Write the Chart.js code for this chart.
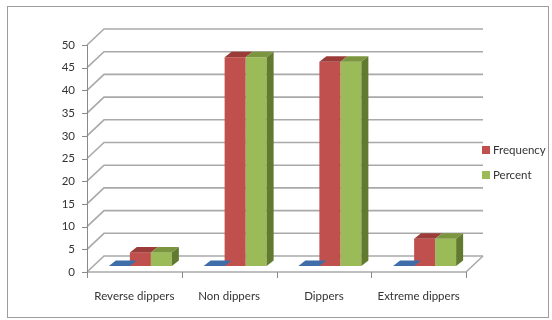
<!DOCTYPE html>
<html>
<head>
<meta charset="utf-8">
<script src="https://cdn.jsdelivr.net/npm/chart.js@4/dist/chart.umd.min.js"></script>
<style>
  html,body{margin:0;padding:0;background:#fff;}
  #wrap{position:relative;width:552px;height:320px;}
</style>
</head>
<body>
<div id="wrap"><canvas id="c" width="552" height="320"></canvas></div>
<script>
const categories = ['Reverse dippers', 'Non dippers', 'Dippers', 'Extreme dippers'];
const baseSeries = [0, 0, 0, 0];
const frequency = [3, 46, 45, 6];
const percent = [3, 46, 45, 6];
const legendLabels = ['Frequency', 'Percent'];
const yMin = 0, yMax = 50, yStep = 5;

const FONT = 'Lato, "Liberation Sans", sans-serif';
const TEXT = '#333333';
const faces = [
  { front: '#4F81BD', top: '#3F6DAA', side: '#2F5588' },
  { front: '#C0504D', top: '#9B3C39', side: '#8C3331' },
  { front: '#9BBB59', top: '#7B963E', side: '#617A2F' }
];
const DX = 17, DY = 16;      // wall depth
const BX = 6, BY = 6;        // bar row offset (mid depth)
const SX = 7, SY = 5.5;      // bar depth

const threeD = {
  id: 'threeD',
  beforeDraw(chart) {
    const ctx = chart.ctx;
    ctx.save();
    ctx.fillStyle = '#fff';
    ctx.fillRect(0, 0, chart.width, chart.height);
    ctx.strokeStyle = '#9C9C9C';
    ctx.lineWidth = 1;
    ctx.strokeRect(7.5, 6.5, 541, 311);
    ctx.restore();
  },
  beforeDatasetsDraw(chart) {
    const ctx = chart.ctx, a = chart.chartArea;
    const ys = chart.scales.y, xs = chart.scales.x;
    ctx.save();
    ctx.lineCap = 'butt';
    // back wall gridlines and left wall diagonals
    ctx.strokeStyle = '#A9A9A9';
    ctx.lineWidth = 1.6;
    for (let v = yMin; v <= yMax; v += yStep) {
      const yf = ys.getPixelForValue(v);
      ctx.beginPath();
      ctx.moveTo(a.left, yf);
      ctx.lineTo(a.left + DX, yf - DY);
      ctx.lineTo(a.right + DX, yf - DY);
      ctx.stroke();
    }
    // floor right edge
    const y0 = ys.getPixelForValue(0);
    ctx.beginPath();
    ctx.moveTo(a.right, y0);
    ctx.lineTo(a.right + DX, y0 - DY);
    ctx.stroke();
    // front floor line
    ctx.beginPath();
    ctx.moveTo(a.left, y0);
    ctx.lineTo(a.right, y0);
    ctx.stroke();
    // axes
    ctx.strokeStyle = '#8A8A8A';
    ctx.lineWidth = 1;
    ctx.beginPath();
    ctx.moveTo(a.left + 0.5, ys.getPixelForValue(yMax));
    ctx.lineTo(a.left + 0.5, y0);
    ctx.stroke();
    for (let v = yMin; v <= yMax; v += yStep) {
      const yf = Math.round(ys.getPixelForValue(v)) + 0.5;
      ctx.beginPath();
      ctx.moveTo(a.left - 5, yf);
      ctx.lineTo(a.left, yf);
      ctx.stroke();
    }
    const n = categories.length;
    const w = (a.right - a.left) / n;
    for (let i = 0; i <= n; i++) {
      const x = Math.round(a.left + i * w) + 0.5;
      ctx.beginPath();
      ctx.moveTo(x, y0);
      ctx.lineTo(x, y0 + 6);
      ctx.stroke();
    }
    ctx.restore();
    ctx.save();
    ctx.translate(BX, -BY);
  },
  afterDatasetsDraw(chart) {
    const ctx = chart.ctx;
    const nds = chart.data.datasets.length;
    for (let d = 0; d < nds; d++) {
      const meta = chart.getDatasetMeta(d);
      const f = faces[d];
      meta.data.forEach(el => {
        const p = el.getProps(['x', 'y', 'base', 'width'], true);
        const l = p.x - p.width / 2, r = p.x + p.width / 2;
        const t = Math.min(p.y, p.base), b = p.base;
        ctx.fillStyle = f.top;
        ctx.beginPath();
        ctx.moveTo(l, t);
        ctx.lineTo(r, t);
        ctx.lineTo(r + SX, t - SY);
        ctx.lineTo(l + SX, t - SY);
        ctx.closePath();
        ctx.fill();
        if (d === nds - 1) {
          ctx.fillStyle = f.side;
          ctx.beginPath();
          ctx.moveTo(r, t);
          ctx.lineTo(r + SX, t - SY);
          ctx.lineTo(r + SX, b - SY);
          ctx.lineTo(r, b);
          ctx.closePath();
          ctx.fill();
        }
      });
    }
    ctx.restore();
  },
  afterDraw(chart) {
    const ctx = chart.ctx;
    ctx.save();
    ctx.font = '11.5px ' + FONT;
    ctx.textBaseline = 'middle';
    ctx.textAlign = 'left';
    const items = [
      { label: legendLabels[0], color: faces[1].front, y: 150 },
      { label: legendLabels[1], color: faces[2].front, y: 175 }
    ];
    items.forEach(it => {
      ctx.fillStyle = it.color;
      ctx.fillRect(482, it.y - 4, 8, 8);
      ctx.fillStyle = TEXT;
      ctx.fillText(it.label, 493, it.y);
    });
    ctx.restore();
  }
};

new Chart(document.getElementById('c'), {
  type: 'bar',
  data: {
    labels: categories,
    datasets: [
      { label: '', data: baseSeries, backgroundColor: faces[0].front },
      { label: legendLabels[0], data: frequency, backgroundColor: faces[1].front },
      { label: legendLabels[1], data: percent, backgroundColor: faces[2].front }
    ]
  },
  options: {
    responsive: false,
    animation: false,
    devicePixelRatio: 1,
    layout: { padding: { left: 0, right: 86, top: 45, bottom: 0 } },
    datasets: { bar: { barPercentage: 1, categoryPercentage: 0.665, borderWidth: 0 } },
    plugins: { legend: { display: false }, tooltip: { enabled: false } },
    scales: {
      x: {
        type: 'category',
        offset: true,
        grid: { display: false, drawTicks: false },
        border: { display: false },
        ticks: { padding: 17, color: TEXT, font: { family: FONT, size: 11.5 }, maxRotation: 0, autoSkip: false },
        afterFit(s) { s.height = 48; }
      },
      y: {
        min: yMin, max: yMax,
        grid: { display: false, drawTicks: false },
        border: { display: false },
        ticks: { stepSize: yStep, padding: 12, color: TEXT, font: { family: FONT, size: 11.5 } },
        afterFit(s) { s.width = 87; }
      }
    }
  },
  plugins: [threeD]
});
</script>
</body>
</html>
